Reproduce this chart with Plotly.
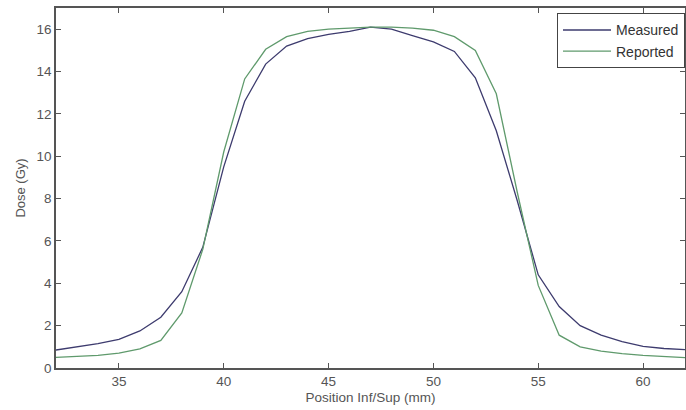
import plotly.graph_objects as go

position_mm = list(range(32, 63))
measured = [0.85, 1.0, 1.15, 1.35, 1.75, 2.4, 3.6, 5.7, 9.5, 12.6, 14.35, 15.2, 15.55, 15.75, 15.9, 16.1,
            16.0, 15.7, 15.4, 14.95, 13.7, 11.2, 7.9, 4.4, 2.9, 2.0, 1.55, 1.25, 1.02, 0.92, 0.87]
reported = [0.5, 0.55, 0.6, 0.7, 0.9, 1.3, 2.6, 5.6, 10.2, 13.65, 15.05, 15.65, 15.9, 16.0, 16.05, 16.1,
            16.1, 16.05, 15.95, 15.65, 15.0, 12.95, 8.3, 3.9, 1.55, 1.0, 0.8, 0.68, 0.6, 0.54, 0.49]

x_ticks = [35, 40, 45, 50, 55, 60]
y_ticks = [0, 2, 4, 6, 8, 10, 12, 14, 16]

FONT = "Liberation Sans, Arial, sans-serif"

fig = go.Figure()
fig.add_trace(go.Scatter(x=position_mm, y=measured, mode="lines", name="Measured",
                         line=dict(color="#3d3b6e", width=1.3)))
fig.add_trace(go.Scatter(x=position_mm, y=reported, mode="lines", name="Reported",
                         line=dict(color="#5f9a6c", width=1.3)))

axis_common = dict(showgrid=False, zeroline=False, showline=True, linecolor="#555555", linewidth=1.5,
                   mirror="ticks", ticks="inside", ticklen=5, tickcolor="#555555", automargin=False,
                   tickfont=dict(family=FONT, size=13.5, color="#555555"))

fig.update_layout(
    width=686, height=410,
    margin=dict(l=56, r=1, t=8, b=42),
    paper_bgcolor="white", plot_bgcolor="white",
    showlegend=True,
    legend=dict(x=1.0, y=0.985, xanchor="right", yanchor="top",
                bordercolor="#444444", borderwidth=1, bgcolor="white",
                font=dict(family=FONT, size=14, color="#333333"),
                tracegroupgap=0, itemwidth=48),
    xaxis=dict(range=[32, 62], tickvals=x_ticks,
               title=dict(text="Position Inf/Sup (mm)", standoff=5,
                          font=dict(family=FONT, size=13.5, color="#555555")),
               **axis_common),
    yaxis=dict(range=[0, 17], tickvals=y_ticks,
               title=dict(text="Dose (Gy)", standoff=8,
                          font=dict(family=FONT, size=13, color="#555555")),
               **axis_common),
)

fig.write_html("out.html", config={"displayModeBar": False},
               post_script="document.body.style.margin='0';")
